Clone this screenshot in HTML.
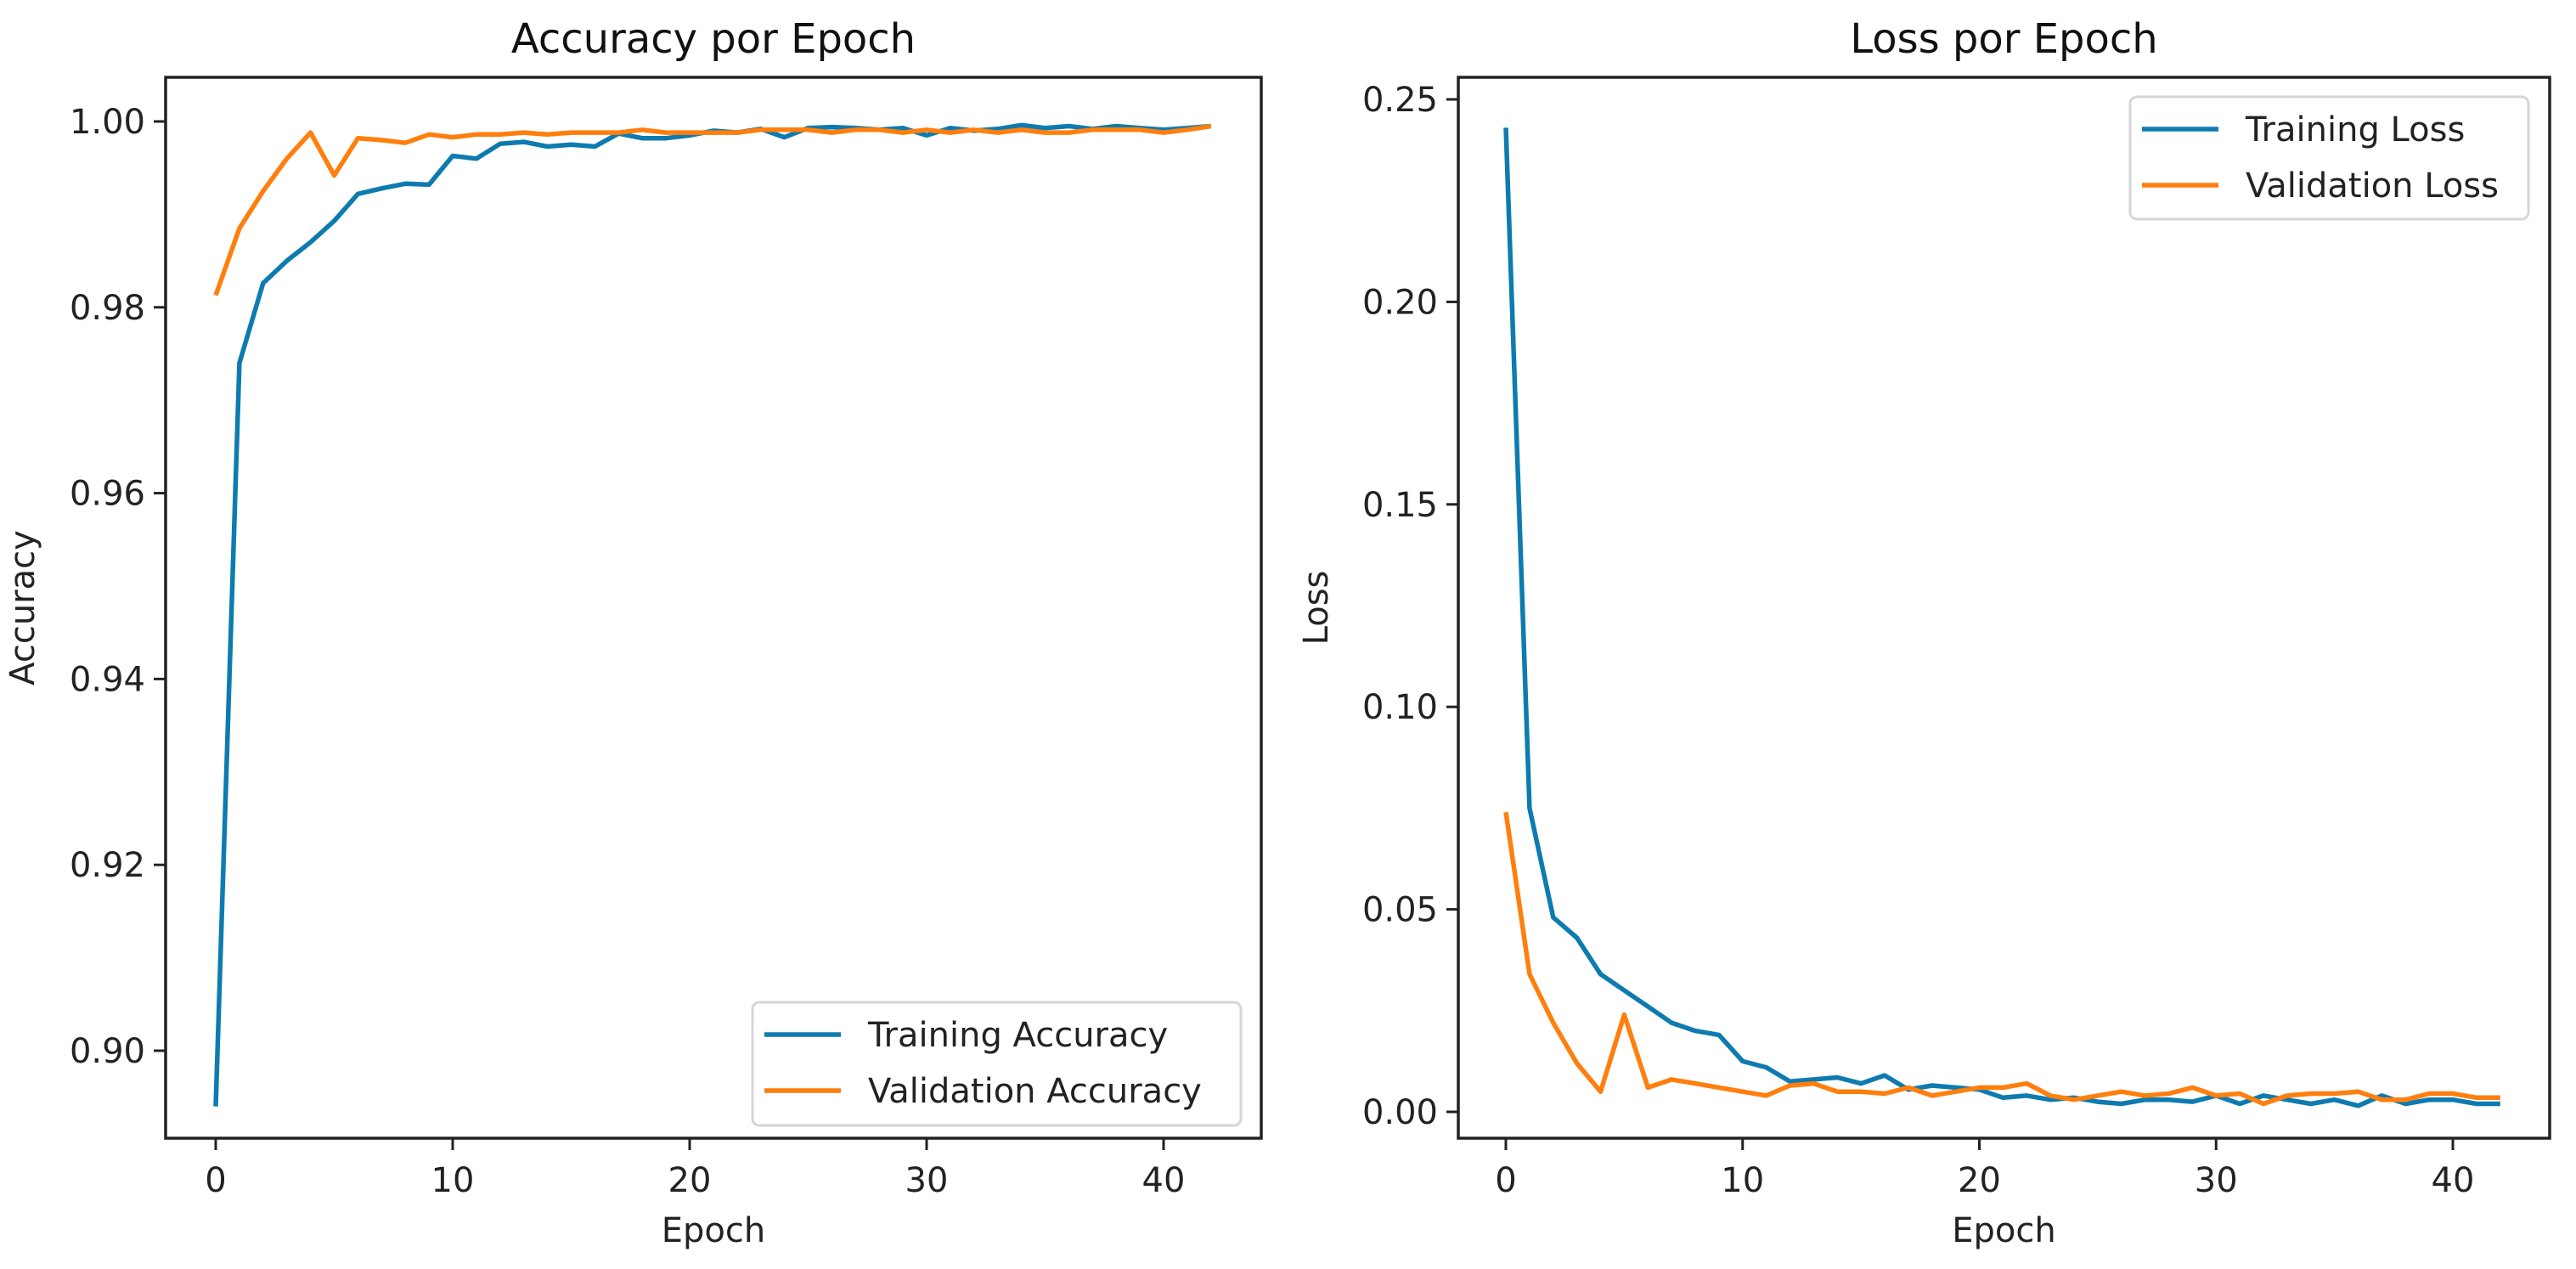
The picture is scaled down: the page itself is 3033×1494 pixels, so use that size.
<!DOCTYPE html>
<html><head><meta charset="utf-8"><style>
html,body{margin:0;padding:0;background:#fff;}
svg{display:block;font-family:"DejaVu Sans","Liberation Sans",sans-serif;}
</style></head><body>
<svg id="fig" width="3033" height="1494" viewBox="0 0 3033 1494"></svg>
<script>
const epochs = Array.from({length:43},(_,i)=>i);
const trainAcc = [0.894,0.974,0.9826,0.985,0.987,0.9893,0.9922,0.9928,0.9933,0.9932,0.9963,0.9960,0.9976,0.9978,0.9973,0.9975,0.9973,0.9987,0.9982,0.9982,0.9985,0.999,0.9988,0.9992,0.9983,0.9993,0.9994,0.9993,0.9991,0.9993,0.9985,0.9993,0.999,0.9992,0.9996,0.9993,0.9995,0.9992,0.9995,0.9993,0.9991,0.9993,0.9995];
const valAcc = [0.9813,0.9885,0.9925,0.996,0.9988,0.9942,0.9982,0.998,0.9977,0.9986,0.9983,0.9986,0.9986,0.9988,0.9986,0.9988,0.9988,0.9988,0.9991,0.9988,0.9988,0.9988,0.9988,0.9991,0.9991,0.9991,0.9988,0.9991,0.9991,0.9988,0.9991,0.9988,0.9991,0.9988,0.9991,0.9988,0.9988,0.9991,0.9991,0.9991,0.9988,0.9991,0.9995];
const trainLoss = [0.243,0.075,0.048,0.043,0.034,0.030,0.026,0.022,0.020,0.019,0.0125,0.011,0.0075,0.008,0.0085,0.007,0.009,0.0055,0.0065,0.006,0.0055,0.0035,0.004,0.003,0.0035,0.0025,0.002,0.003,0.003,0.0025,0.004,0.002,0.004,0.003,0.002,0.003,0.0015,0.004,0.002,0.003,0.003,0.002,0.002];
const valLoss = [0.074,0.034,0.022,0.012,0.005,0.024,0.006,0.008,0.007,0.006,0.005,0.004,0.0065,0.007,0.005,0.005,0.0045,0.006,0.004,0.005,0.006,0.006,0.007,0.004,0.003,0.004,0.005,0.004,0.0045,0.006,0.004,0.0045,0.002,0.004,0.0045,0.0045,0.005,0.003,0.003,0.0045,0.0045,0.0035,0.0035];
const xTicks = [0,10,20,30,40];
const accTicks = [0.90,0.92,0.94,0.96,0.98,1.00];
const lossTicks = [0.00,0.05,0.10,0.15,0.20,0.25];

const NS='http://www.w3.org/2000/svg';
const svg=document.getElementById('fig');
function mk(tag,attrs,parent){const e=document.createElementNS(NS,tag);for(const k in attrs)e.setAttribute(k,attrs[k]);(parent||svg).appendChild(e);return e;}
const BLUE='#0e7bb0', ORANGE='#ff7f0e';

function panel(cfg){
  const g=mk('g',{});
  
  
  const X=v=>cfg.x0+(v-0)*(cfg.x40-cfg.x0)/40;
  const Y=v=>cfg.yA+(v-cfg.vA)*(cfg.yB-cfg.yA)/(cfg.vB-cfg.vA);
  xTicks.forEach(t=>{
    const x=X(t);
    const l=mk('line',{x1:x,x2:x,y1:cfg.bottom,y2:cfg.bottom+14,stroke:'#222','stroke-width':3},g);
    
    
    const tx=mk('text',{x:x,y:cfg.bottom+63,'font-size':40,'text-anchor':'middle',fill:'#222'},g);
    tx.textContent=t;
    
    
  });
  cfg.yTicks.forEach(t=>{
    const y=Y(t);
    const l=mk('line',{x1:cfg.left-14,x2:cfg.left,y1:y,y2:y,stroke:'#222','stroke-width':3},g);
    
    
    const tx=mk('text',{x:cfg.left-24,y:y+14,'font-size':40,'text-anchor':'end',fill:'#222'},g);
    tx.textContent=t.toFixed(2);
    
    
  });
  const cid=cfg.name+'-clip';
  const cp=mk('clipPath',{id:cid},g);
  mk('rect',{x:cfg.left,y:cfg.top,width:cfg.right-cfg.left,height:cfg.bottom-cfg.top},cp);
  cfg.series.forEach(s=>{
    const d=s.data.map((v,i)=>(i?'L':'M')+X(epochs[i]).toFixed(1)+','+Y(v).toFixed(1)).join('');
    const p=mk('path',{d:d,fill:'none',stroke:s.color,'stroke-width':5.5,'stroke-linejoin':'round','clip-path':'url(#'+cid+')'},g);
    
    
  });
  const fr=mk('rect',{x:cfg.left,y:cfg.top,width:cfg.right-cfg.left,height:cfg.bottom-cfg.top,fill:'none',stroke:'#222','stroke-width':3.5},g);
  
  
  const ti=mk('text',{x:(cfg.left+cfg.right)/2,y:62,'font-size':48,'text-anchor':'middle',fill:'#111'},g);
  ti.textContent=cfg.title;
  
  
  const xl=mk('text',{x:(cfg.left+cfg.right)/2,y:1462,'font-size':40,'text-anchor':'middle',fill:'#222'},g);
  xl.textContent='Epoch';
  
  
  const yl=mk('text',{x:0,y:0,'font-size':40,'text-anchor':'middle',fill:'#222',transform:'translate('+cfg.ylabX+','+((cfg.top+cfg.bottom)/2)+') rotate(-90)'},g);
  yl.textContent=cfg.ylabel;
  
  
  const L=cfg.legend;
  const lg=mk('g',{},g);
  
  
  mk('rect',{x:L.x,y:L.y,width:L.w,height:L.h,rx:8,fill:'#fff','fill-opacity':0.8,stroke:'#d6d6d6','stroke-width':3},lg);
  cfg.series.forEach((s,i)=>{
    const cy=L.y+38+i*66;
    const ln=mk('line',{x1:L.x+14,x2:L.x+104,y1:cy,y2:cy,stroke:s.color,'stroke-width':5.5},lg);
    
    
    const t=mk('text',{x:L.x+136,y:cy+14,'font-size':40,fill:'#222'},lg);
    t.textContent=s.label;
    
    
  });
}

panel({name:'accuracy-chart',title:'Accuracy por Epoch',ylabel:'Accuracy',left:195,right:1485,top:91,bottom:1340,
  x0:254,x40:1370,yA:143,vA:1.00,yB:1237,vB:0.90,yTicks:accTicks,ylabX:40,
  legend:{x:886,y:1180,w:575,h:145},
  series:[{id:'training-accuracy-line',data:trainAcc,color:BLUE,label:'Training Accuracy'},
          {id:'validation-accuracy-line',data:valAcc,color:ORANGE,label:'Validation Accuracy'}]});
panel({name:'loss-chart',title:'Loss por Epoch',ylabel:'Loss',left:1717,right:3002,top:91,bottom:1340,
  x0:1773,x40:2888,yA:1309,vA:0.00,yB:117,vB:0.25,yTicks:lossTicks,ylabX:1563,
  legend:{x:2508,y:114,w:469,h:144},
  series:[{id:'training-loss-line',data:trainLoss,color:BLUE,label:'Training Loss'},
          {id:'validation-loss-line',data:valLoss,color:ORANGE,label:'Validation Loss'}]});
</script>
</body></html>
